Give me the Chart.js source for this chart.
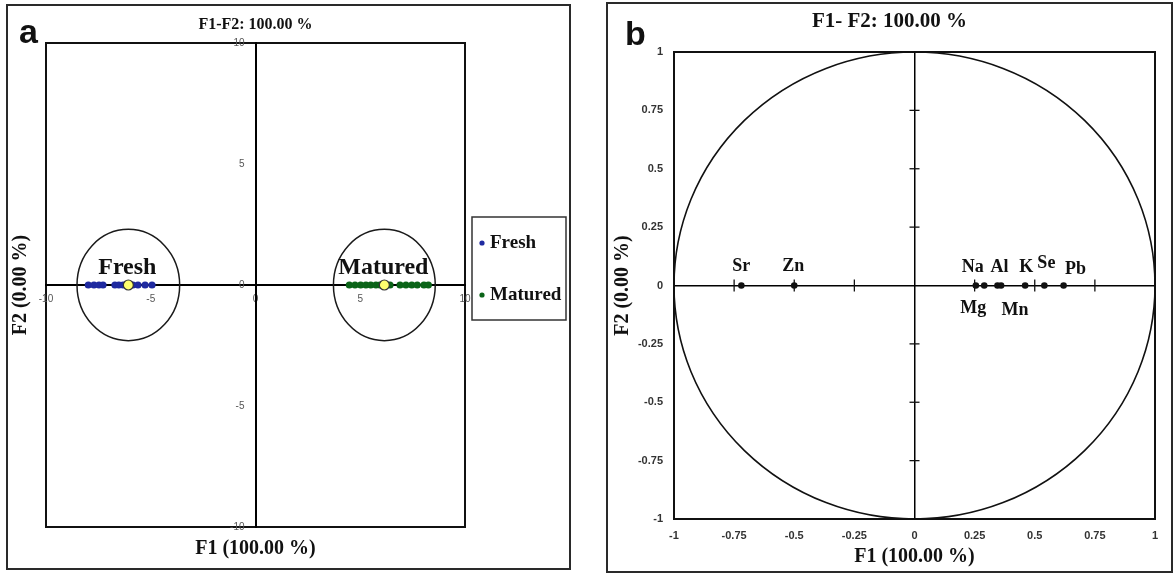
<!DOCTYPE html>
<html><head><meta charset="utf-8">
<script src="https://cdn.jsdelivr.net/npm/chart.js@4.4.1/dist/chart.umd.min.js"></script>
<style>
html,body{margin:0;padding:0;background:#fff;}
#wrap{position:relative;width:1174px;height:575px;background:#fff;}
#ca{position:absolute;left:0;top:0;}
#cb{position:absolute;left:598px;top:0;}
</style></head><body>
<div id="wrap"><canvas id="ca" width="598" height="575"></canvas><canvas id="cb" width="576" height="575"></canvas></div>
<script>
// ---------- Panel a: observations ----------
const aSeries = ['Fresh', 'Matured'];
const freshF1 = [-7.98, -7.71, -7.47, -7.28, -6.71, -6.52, -6.32, -5.85, -5.61, -5.27, -4.94];
const freshF2 = [0, 0, 0, 0, 0, 0, 0, 0, 0, 0, 0];
const maturedF1 = [4.48, 4.75, 5.02, 5.27, 5.50, 5.75, 5.94, 6.42, 6.90, 7.18, 7.46, 7.72, 8.04, 8.25];
const maturedF2 = [0, 0, 0, 0, 0, 0, 0, 0, 0, 0, 0, 0, 0, 0];
const centroidF1 = [-6.07, 6.15];
const centroidF2 = [0, 0];
const ellipseRadiusF1 = [2.45, 2.43];
const ellipseRadiusF2 = [2.3, 2.3];
const aTicks = [-10, -5, 0, 5, 10];
const aTickLabels = ['-10', '-5', '0', '5', '10'];

// ---------- Panel b: variables ----------
const bVariables = ['Sr', 'Zn', 'Na', 'Mg', 'Al', 'Mn', 'K', 'Se', 'Pb'];
const bF1 = [-0.72, -0.50, 0.255, 0.29, 0.345, 0.36, 0.46, 0.54, 0.62];
const bF2 = [0, 0, 0, 0, 0, 0, 0, 0, 0];
const bTicks = [-1, -0.75, -0.5, -0.25, 0, 0.25, 0.5, 0.75, 1];
const bTickLabels = ['-1', '-0.75', '-0.5', '-0.25', '0', '0.25', '0.5', '0.75', '1'];
const circleRadius = 1;

// label placement (pixels, layout only)
const bLabelOffsets = {
  Sr: [0, -15], Zn: [-1, -15], Na: [-3, -14], Mg: [-11, 27], Al: [2, -14],
  Mn: [14, 29], K: [1, -14], Se: [2, -18], Pb: [12, -12]
};

const SERIF = '"Liberation Serif", "Times New Roman", serif';
const SANS = '"Liberation Sans", Arial, sans-serif';

const pts = (xs, ys) => xs.map((v, i) => ({x: v, y: ys[i]}));

// ---------- Panel a plugin ----------
const panelAPlugin = {
  id: 'panelA',
  beforeDraw(chart) {
    const {ctx, chartArea: ca} = chart;
    ctx.save();
    ctx.fillStyle = '#fff';
    ctx.fillRect(0, 0, chart.width, chart.height);
    ctx.strokeStyle = '#2a2a2a'; ctx.lineWidth = 2;
    ctx.strokeRect(7, 5, 563, 564);
    ctx.strokeStyle = '#111'; ctx.lineWidth = 2;
    ctx.strokeRect(ca.left, ca.top, ca.right - ca.left, ca.bottom - ca.top);
    ctx.restore();
  },
  beforeDatasetsDraw(chart) {
    const {ctx, scales: {x, y}} = chart;
    ctx.save();
    centroidF1.forEach((cx, i) => {
      const px = x.getPixelForValue(cx), py = y.getPixelForValue(centroidF2[i]);
      const rx = Math.abs(x.getPixelForValue(cx + ellipseRadiusF1[i]) - px);
      const ry = Math.abs(y.getPixelForValue(centroidF2[i] + ellipseRadiusF2[i]) - py);
      ctx.strokeStyle = '#1a1a1a'; ctx.lineWidth = 1.5;
      ctx.beginPath(); ctx.ellipse(px, py, rx, ry, 0, 0, Math.PI * 2); ctx.stroke();
      ctx.font = 'bold 24px ' + SERIF; ctx.fillStyle = '#111';
      ctx.textAlign = 'center'; ctx.textBaseline = 'alphabetic';
      ctx.fillText(aSeries[i], px - 1, py - 11);
    });
    ctx.restore();
  },
  afterDraw(chart) {
    const {ctx, scales: {x, y}} = chart;
    ctx.save();
    // y tick labels along the vertical zero axis
    ctx.font = '10px ' + SANS; ctx.fillStyle = '#555';
    ctx.textAlign = 'right'; ctx.textBaseline = 'middle';
    const x0 = x.getPixelForValue(0);
    y.ticks.forEach(t => {
      ctx.fillText(aTickLabels[aTicks.indexOf(t.value)], x0 - 11, y.getPixelForValue(t.value));
    });
    // y axis title
    ctx.save();
    ctx.translate(21, (chart.chartArea.top + chart.chartArea.bottom) / 2);
    ctx.rotate(-Math.PI / 2);
    ctx.font = 'bold 20px ' + SERIF; ctx.fillStyle = '#111';
    ctx.textAlign = 'center'; ctx.textBaseline = 'middle';
    ctx.fillText('F2 (0.00 %)', 0, 0);
    ctx.restore();
    // panel letter
    ctx.font = 'bold 34px ' + SANS; ctx.fillStyle = '#111';
    ctx.textAlign = 'left'; ctx.textBaseline = 'alphabetic';
    ctx.fillText('a', 19, 43);
    // legend box
    ctx.strokeStyle = '#333'; ctx.lineWidth = 1.5;
    ctx.strokeRect(472, 217, 94, 103);
    const items = chart.data.datasets.filter(d => aSeries.includes(d.label));
    items.forEach((d, i) => {
      const cy = 243 + i * 52;
      ctx.fillStyle = d.backgroundColor;
      ctx.beginPath(); ctx.arc(482, cy, 2.6, 0, Math.PI * 2); ctx.fill();
      ctx.font = 'bold 19px ' + SERIF; ctx.fillStyle = '#111';
      ctx.textAlign = 'left'; ctx.textBaseline = 'middle';
      ctx.fillText(d.label, 490, cy);
    });
    ctx.restore();
  }
};

new Chart(document.getElementById('ca'), {
  type: 'scatter',
  data: {
    datasets: [
      {label: 'Centroids', data: pts(centroidF1, centroidF2), backgroundColor: '#ffff6e',
       borderColor: '#333', borderWidth: 1.2, pointRadius: 5, order: 0},
      {label: aSeries[0], data: pts(freshF1, freshF2), backgroundColor: '#1f2aa0',
       borderColor: '#1f2aa0', borderWidth: 0, pointRadius: 3.6, order: 1},
      {label: aSeries[1], data: pts(maturedF1, maturedF2), backgroundColor: '#0b6418',
       borderColor: '#0b6418', borderWidth: 0, pointRadius: 3.6, order: 1}
    ]
  },
  options: {
    responsive: false, animation: false, events: [],
    layout: {padding: {left: 46, right: 133, top: 0, bottom: 0}},
    plugins: {
      legend: {display: false}, tooltip: {enabled: false},
      title: {display: true, text: 'F1-F2: 100.00 %', color: '#111',
        font: {family: SERIF, size: 16, weight: 'bold', lineHeight: 1.2}, padding: {top: 15, bottom: 8.8}},
      subtitle: {display: true, position: 'bottom', text: 'F1 (100.00 %)', color: '#111',
        font: {family: SERIF, size: 20, weight: 'bold', lineHeight: 1.2}, padding: {top: 10, bottom: 14}}
    },
    scales: {
      x: {type: 'linear', position: {y: 0}, min: -10, max: 10,
        afterBuildTicks: s => { s.ticks = aTicks.map(v => ({value: v})); },
        ticks: {callback: v => aTickLabels[aTicks.indexOf(v)], font: {family: SANS, size: 10},
          color: '#555', padding: 8, maxRotation: 0, autoSkip: false},
        grid: {display: false, drawTicks: false},
        border: {display: true, color: '#000', width: 2}},
      y: {type: 'linear', position: {x: 0}, min: -10, max: 10,
        afterBuildTicks: s => { s.ticks = aTicks.map(v => ({value: v})); },
        ticks: {display: false},
        grid: {display: false, drawTicks: false},
        border: {display: true, color: '#000', width: 2}}
    }
  },
  plugins: [panelAPlugin]
});

// ---------- Panel b plugin ----------
const panelBPlugin = {
  id: 'panelB',
  beforeDraw(chart) {
    const {ctx, chartArea: ca} = chart;
    ctx.save();
    ctx.fillStyle = '#fff';
    ctx.fillRect(0, 0, chart.width, chart.height);
    ctx.strokeStyle = '#2a2a2a'; ctx.lineWidth = 2;
    ctx.strokeRect(9, 3, 565, 569);
    ctx.strokeStyle = '#111'; ctx.lineWidth = 2;
    ctx.strokeRect(ca.left, ca.top, ca.right - ca.left, ca.bottom - ca.top);
    ctx.font = 'bold 34px ' + SANS; ctx.fillStyle = '#111';
    ctx.textAlign = 'left'; ctx.textBaseline = 'alphabetic';
    ctx.fillText('b', 27, 45);
    ctx.restore();
  },
  beforeDatasetsDraw(chart) {
    const {ctx, scales: {x, y}} = chart;
    const px = x.getPixelForValue(0), py = y.getPixelForValue(0);
    ctx.save();
    // correlation circle
    const rx = x.getPixelForValue(circleRadius) - px;
    const ry = py - y.getPixelForValue(circleRadius);
    ctx.strokeStyle = '#111'; ctx.lineWidth = 1.6;
    ctx.beginPath(); ctx.ellipse(px, py, rx, ry, 0, 0, Math.PI * 2); ctx.stroke();
    // tick marks on the zero axes
    ctx.lineWidth = 1.3;
    bTicks.forEach(v => {
      if (v === 0 || Math.abs(v) === 1) return;
      const tx = x.getPixelForValue(v), ty = y.getPixelForValue(v);
      ctx.beginPath(); ctx.moveTo(tx, py - 6); ctx.lineTo(tx, py + 6); ctx.stroke();
      ctx.beginPath(); ctx.moveTo(px - 5, ty); ctx.lineTo(px + 5, ty); ctx.stroke();
    });
    ctx.restore();
  },
  afterDatasetsDraw(chart) {
    const {ctx, scales: {x, y}} = chart;
    ctx.save();
    ctx.font = 'bold 18px ' + SERIF; ctx.fillStyle = '#111';
    ctx.textAlign = 'center'; ctx.textBaseline = 'alphabetic';
    bVariables.forEach((n, i) => {
      const off = bLabelOffsets[n];
      ctx.fillText(n, x.getPixelForValue(bF1[i]) + off[0], y.getPixelForValue(bF2[i]) + off[1]);
    });
    ctx.restore();
  }
};

const zeroGrid = c => (c.tick && c.tick.value === 0) ? '#000' : 'rgba(0,0,0,0)';

new Chart(document.getElementById('cb'), {
  type: 'scatter',
  data: {
    labels: bVariables,
    datasets: [{label: 'Variables', data: pts(bF1, bF2), backgroundColor: '#111',
      borderColor: '#111', borderWidth: 0, pointRadius: 3.3}]
  },
  options: {
    responsive: false, animation: false, events: [],
    layout: {padding: {left: 26, right: 19, top: 0, bottom: 2}},
    plugins: {
      legend: {display: false}, tooltip: {enabled: false},
      title: {display: true, text: 'F1- F2: 100.00 %', color: '#111',
        font: {family: SERIF, size: 21, weight: 'bold', lineHeight: 1.2}, padding: {top: 9.4, bottom: 17.4}}
    },
    scales: {
      x: {type: 'linear', position: 'bottom', min: -1, max: 1,
        afterBuildTicks: s => { s.ticks = bTicks.map(v => ({value: v})); },
        afterFit: s => { s.height = 54; },
        ticks: {callback: v => bTickLabels[bTicks.indexOf(v)], font: {family: SANS, size: 11, weight: 'bold'},
          color: '#333', padding: 10, maxRotation: 0, autoSkip: false},
        grid: {drawTicks: false, lineWidth: 1.5, color: zeroGrid},
        border: {display: false},
        title: {display: true, text: 'F1 (100.00 %)', color: '#111',
          font: {family: SERIF, size: 20, weight: 'bold', lineHeight: 1.2}, padding: {top: 0, bottom: 4}}},
      y: {type: 'linear', position: 'left', min: -1, max: 1,
        afterBuildTicks: s => { s.ticks = bTicks.map(v => ({value: v})); },
        afterFit: s => { s.width = 50; },
        ticks: {callback: v => bTickLabels[bTicks.indexOf(v)], font: {family: SANS, size: 11, weight: 'bold'},
          color: '#333', padding: 11, autoSkip: false},
        grid: {drawTicks: false, lineWidth: 1.5, color: zeroGrid},
        border: {display: false},
        title: {display: true, text: 'F2 (0.00 %)', color: '#111',
          font: {family: SERIF, size: 20, weight: 'bold', lineHeight: 1.2}, padding: {top: -13, bottom: 0}}}
    }
  },
  plugins: [panelBPlugin]
});
</script>
</body></html>
